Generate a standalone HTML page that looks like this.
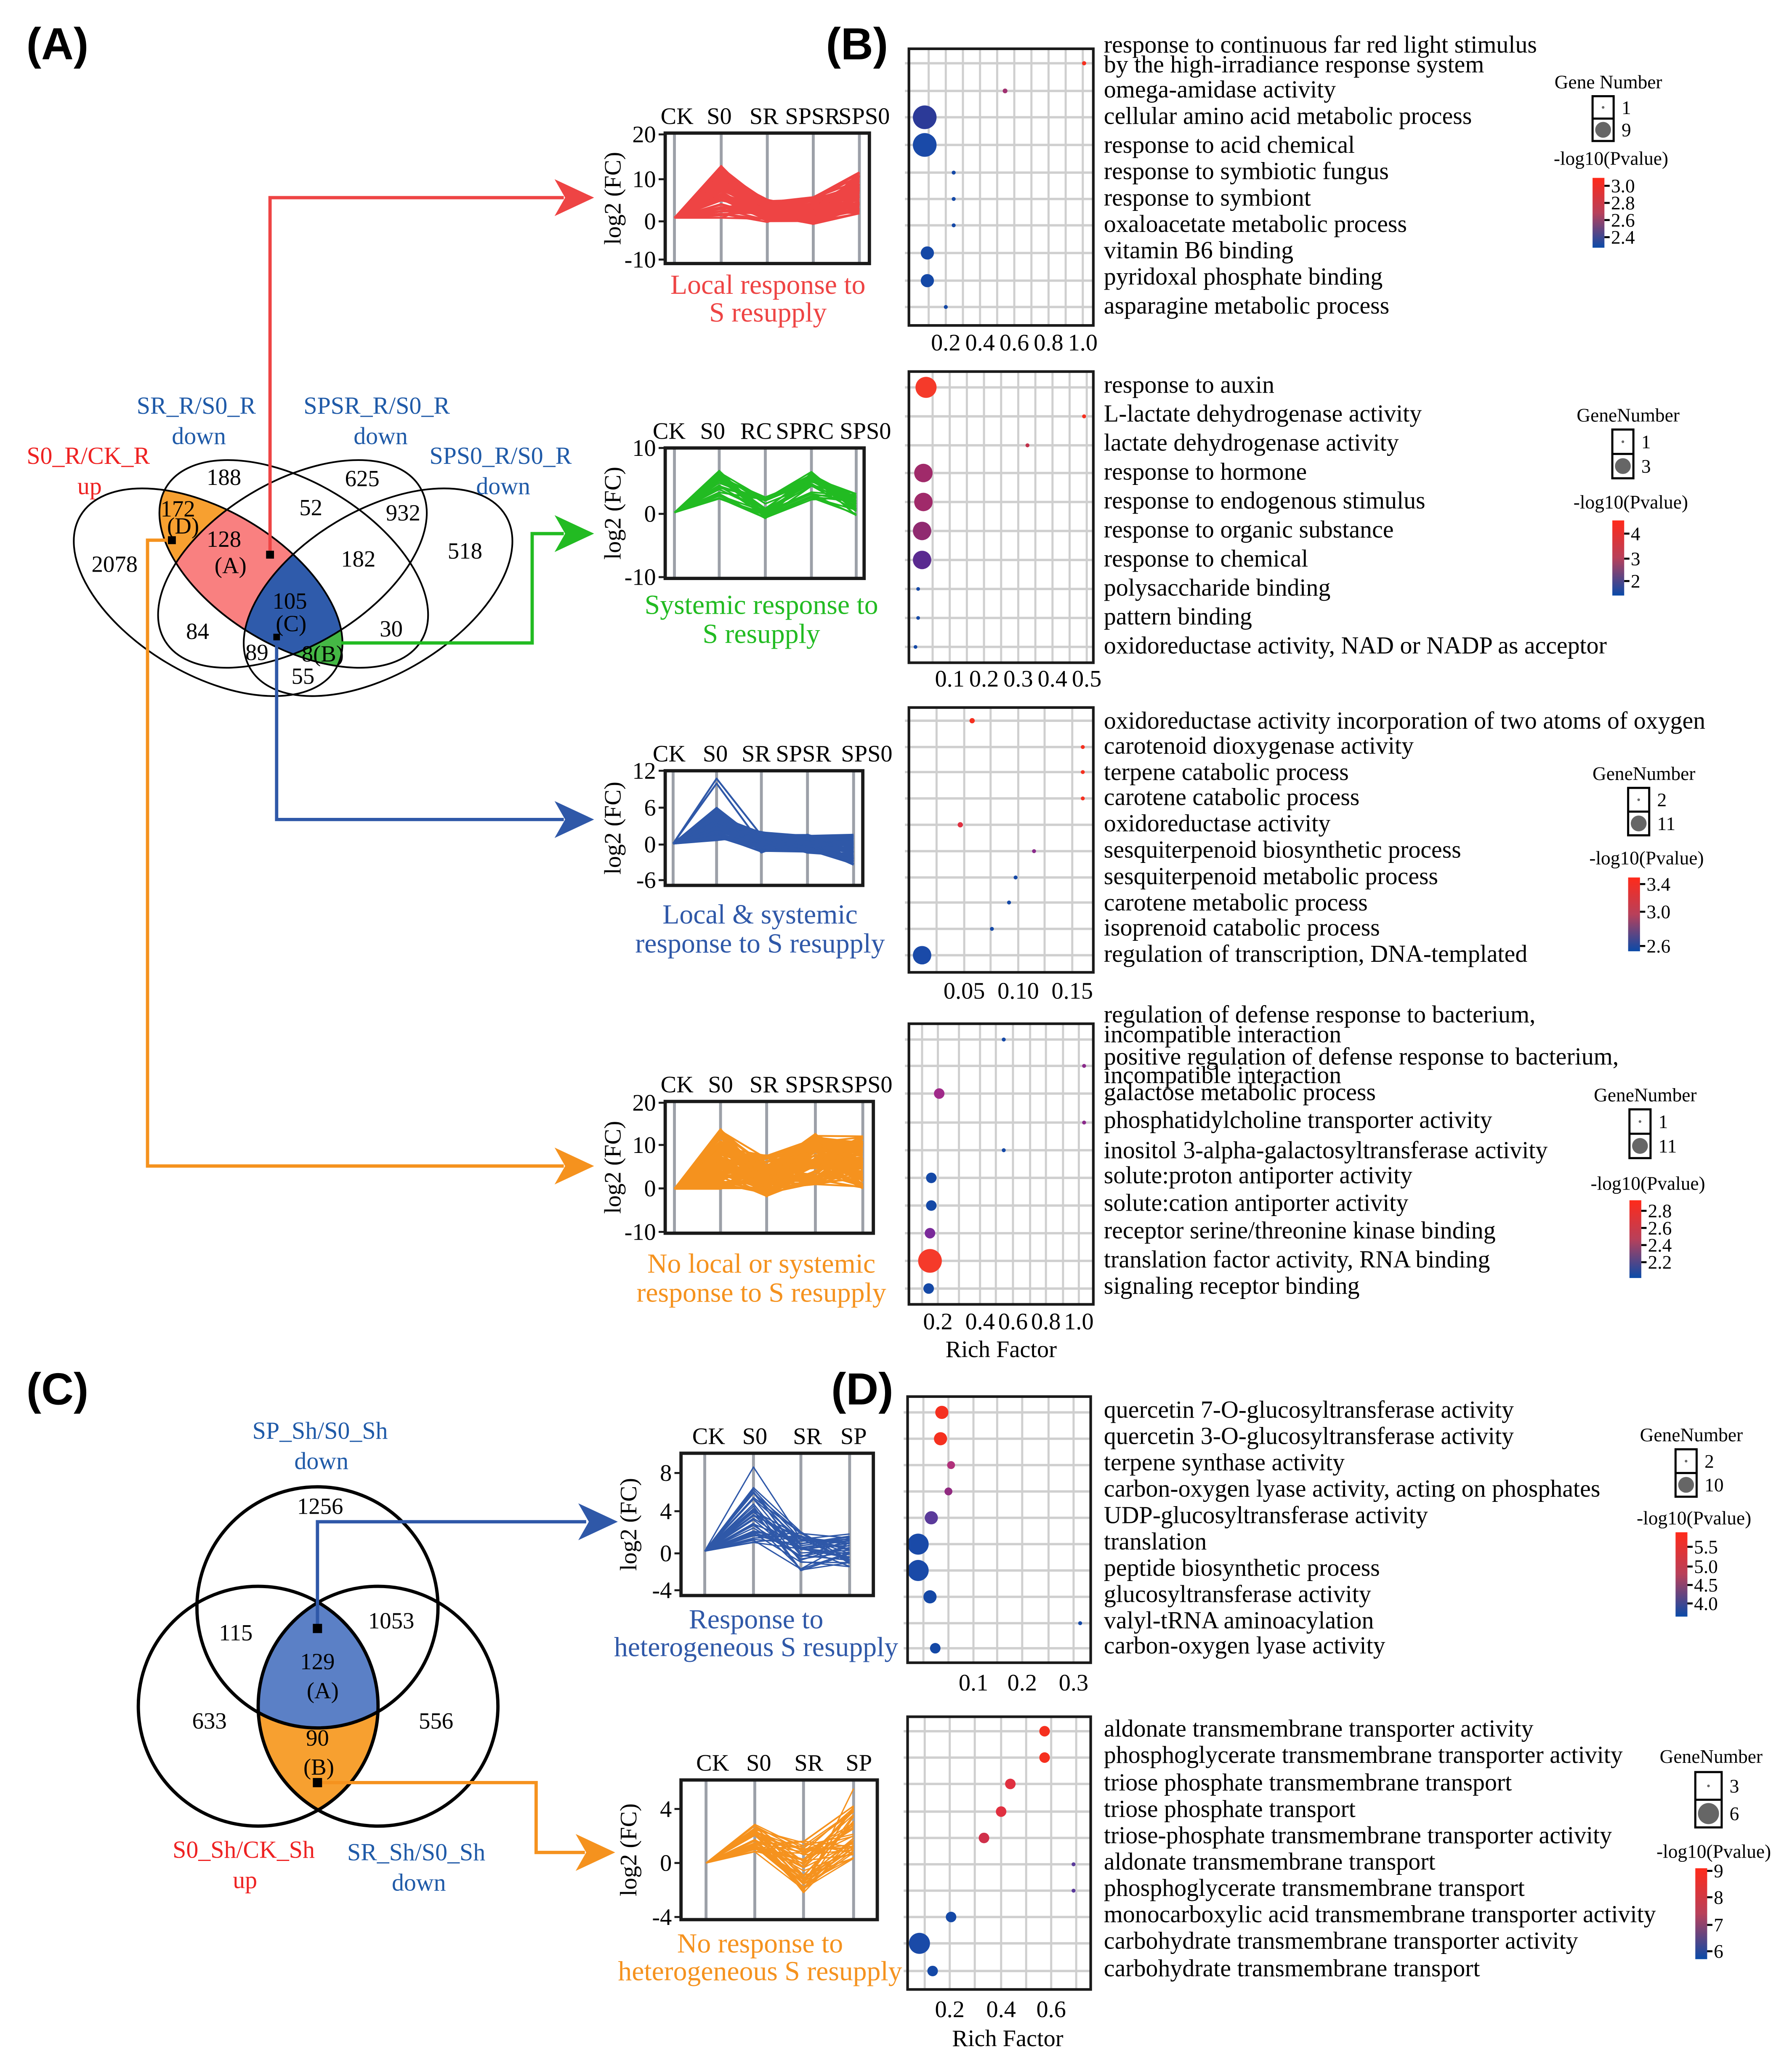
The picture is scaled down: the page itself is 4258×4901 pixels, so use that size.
<!DOCTYPE html>
<html><head><meta charset="utf-8">
<style>
html,body{margin:0;padding:0;background:#fff;}
svg{display:block;}
text{font-family:"Liberation Serif","DejaVu Serif",serif;}
.b{font-family:"Liberation Sans","DejaVu Sans",sans-serif;font-weight:bold;}
</style></head>
<body>
<svg id="s" xmlns="http://www.w3.org/2000/svg" width="4258" height="4901" viewBox="0 0 1360.4 1565.8">
<rect width="1360.4" height="1565.8" fill="#fff"/>
<defs>
<clipPath id="c1"><ellipse cx="0" cy="0" rx="113" ry="62" transform="translate(158,449.5) rotate(31)"/></clipPath>
<clipPath id="c2"><ellipse cx="0" cy="0" rx="113" ry="62" transform="translate(223,428) rotate(31)"/></clipPath>
<clipPath id="c3"><ellipse cx="0" cy="0" rx="113" ry="62" transform="translate(222,428) rotate(-31)"/></clipPath>
<clipPath id="c4"><ellipse cx="0" cy="0" rx="113" ry="62" transform="translate(287,449.5) rotate(-31)"/></clipPath>
<clipPath id="k1"><circle cx="241" cy="1220" r="91.5"/></clipPath>
<clipPath id="k2"><circle cx="196" cy="1295" r="91"/></clipPath>
<clipPath id="k3"><circle cx="287" cy="1295" r="91"/></clipPath>
<linearGradient id="gr" x1="0" y1="0" x2="0" y2="1"><stop offset="0" stop-color="#ff2a1a"/><stop offset="0.5" stop-color="#b8405a"/><stop offset="1" stop-color="#0a4aa8"/></linearGradient>
</defs>

<text class="b" x="20" y="45" font-size="34">(A)</text>
<text class="b" x="627" y="45" font-size="34">(B)</text>
<text class="b" x="20" y="1066" font-size="34">(C)</text>
<text class="b" x="631" y="1066" font-size="34">(D)</text>

<g clip-path="url(#c1)"><g clip-path="url(#c2)"><rect x="0" y="300" width="450" height="260" fill="#f7a030"/></g></g>
<g clip-path="url(#c1)"><g clip-path="url(#c2)"><g clip-path="url(#c3)"><rect x="0" y="300" width="450" height="260" fill="#f98080"/></g></g></g>
<g clip-path="url(#c1)"><g clip-path="url(#c2)"><g clip-path="url(#c4)"><rect x="0" y="300" width="450" height="260" fill="#45b845"/></g></g></g>
<g clip-path="url(#c1)"><g clip-path="url(#c2)"><g clip-path="url(#c3)"><g clip-path="url(#c4)"><rect x="0" y="300" width="450" height="260" fill="#2f5bab"/></g></g></g></g>
<g fill="none" stroke="#000" stroke-width="1.3">
<ellipse cx="0" cy="0" rx="113" ry="62" transform="translate(158,449.5) rotate(31)"/>
<ellipse cx="0" cy="0" rx="113" ry="62" transform="translate(223,428) rotate(31)"/>
<ellipse cx="0" cy="0" rx="113" ry="62" transform="translate(222,428) rotate(-31)"/>
<ellipse cx="0" cy="0" rx="113" ry="62" transform="translate(287,449.5) rotate(-31)"/>
</g>
<g font-size="17.5" text-anchor="middle" fill="#000">
<text x="170" y="368">188</text><text x="275" y="369">625</text><text x="236" y="391">52</text>
<text x="306" y="395">932</text><text x="353" y="424">518</text><text x="272" y="430">182</text>
<text x="87" y="434">2078</text><text x="135" y="392">172</text><text x="139" y="405">(D)</text>
<text x="170" y="415">128</text><text x="175" y="435">(A)</text><text x="220" y="462">105</text>
<text x="221" y="479">(C)</text><text x="150" y="485">84</text><text x="297" y="483">30</text>
<text x="195" y="501">89</text><text x="245" y="502">8(B)</text><text x="230" y="519">55</text>
</g>
<g font-size="18.5" text-anchor="middle">
<text x="67" y="352" fill="#ee2222">S0_R/CK_R</text><text x="68" y="375" fill="#ee2222">up</text>
<text x="149" y="314" fill="#1f5aa8">SR_R/S0_R</text><text x="151" y="337" fill="#1f5aa8">down</text>
<text x="286" y="314" fill="#1f5aa8">SPSR_R/S0_R</text><text x="289" y="337" fill="#1f5aa8">down</text>
<text x="380" y="352" fill="#1f5aa8">SPS0_R/S0_R</text><text x="382" y="375" fill="#1f5aa8">down</text>
</g>
<g fill="none" stroke-width="2.5">
<polyline points="205,421 205,150 428,150" stroke="#ee4444"/>
<polyline points="259,488 404,488 404,405 428,405" stroke="#22bb22"/>
<polyline points="210,484 210,622 428,622" stroke="#2f58a8"/>
<polyline points="130,410 112,410 112,885 428,885" stroke="#f5921e"/>
</g>
<path d="M451,150 l-30,-14 l8,14 l-8,14z" fill="#ee4444"/>
<path d="M451,405 l-30,-14 l8,14 l-8,14z" fill="#22bb22"/>
<path d="M451,622 l-30,-14 l8,14 l-8,14z" fill="#2f58a8"/>
<path d="M451,885 l-30,-14 l8,14 l-8,14z" fill="#f5921e"/>
<rect x="202" y="418" width="6" height="6" fill="#000"/>
<rect x="127.5" y="407" width="6" height="6" fill="#000"/>
<rect x="207.5" y="481" width="5" height="5" fill="#000"/>

<g clip-path="url(#k2)"><g clip-path="url(#k3)"><rect x="100" y="1150" width="300" height="250" fill="#f7a030"/></g></g>
<g clip-path="url(#k1)"><g clip-path="url(#k2)"><g clip-path="url(#k3)"><rect x="100" y="1150" width="300" height="250" fill="#5b80c6"/></g></g></g>
<g fill="none" stroke="#000" stroke-width="2.5">
<circle cx="241" cy="1220" r="91.5"/><circle cx="196" cy="1295" r="91"/><circle cx="287" cy="1295" r="91"/>
</g>
<g font-size="17.5" text-anchor="middle">
<text x="243" y="1149">1256</text><text x="179" y="1245">115</text><text x="297" y="1236">1053</text>
<text x="241" y="1267">129</text><text x="245" y="1289">(A)</text><text x="159" y="1312">633</text>
<text x="331" y="1312">556</text><text x="241" y="1325">90</text><text x="242" y="1347">(B)</text>
</g>
<g font-size="18.5" text-anchor="middle">
<text x="243" y="1092" fill="#1f5aa8">SP_Sh/S0_Sh</text><text x="244" y="1115" fill="#1f5aa8">down</text>
<text x="185" y="1410" fill="#ee2222">S0_Sh/CK_Sh</text><text x="186" y="1433" fill="#ee2222">up</text>
<text x="316" y="1412" fill="#1f5aa8">SR_Sh/S0_Sh</text><text x="318" y="1435" fill="#1f5aa8">down</text>
</g>
<g fill="none" stroke-width="2.5">
<polyline points="241,1236 241,1155 445,1155" stroke="#2f58a8"/>
<polyline points="241,1353 407,1353 407,1406 444,1406" stroke="#f5921e"/>
</g>
<path d="M469,1155 l-30,-14 l8,14 l-8,14z" fill="#2f58a8"/>
<path d="M467,1406 l-30,-14 l8,14 l-8,14z" fill="#f5921e"/>
<rect x="237.5" y="1232.5" width="7" height="7" fill="#000"/>
<rect x="237.5" y="1349.5" width="7" height="7" fill="#000"/>

<g id="dyn"></g>
</svg>
<script>
(function(){
var out='';
var seed=7;
function r(){seed=(seed*16807)%2147483647;return (seed-1)/2147483646;}
function U(a,b){return a+(b-a)*r();}
function T(x,y,s,sz,fill,anchor,extra){return '<text x="'+x+'" y="'+y+'" font-size="'+sz+'" fill="'+(fill||'#000')+'"'+(anchor?' text-anchor="'+anchor+'"':'')+(extra||'')+'>'+s.replace(/&/g,'&amp;')+'</text>';}
function lp(c){
  var t0=c.ticks[0],t1=c.ticks[c.ticks.length-1];
  function Y(v){return t0[1]+(v-t0[0])*(t1[1]-t0[1])/(t1[0]-t0[0]);}
  for(var i=0;i<c.cats.length;i++){out+='<line x1="'+c.cats[i]+'" y1="'+c.y0+'" x2="'+c.cats[i]+'" y2="'+c.y1+'" stroke="#9ca0a8" stroke-width="2.2"/>';}
  for(var k=0;k<c.n;k++){
    var v=c.gen(k),pts=[];
    for(var j=0;j<v.length;j++){var yy=Math.max(c.y0+2,Math.min(c.y1-2,Y(v[j])));pts.push(c.cats[j]+','+yy.toFixed(1));}
    out+='<polyline points="'+pts.join(' ')+'" fill="none" stroke="'+c.color+'" stroke-width="'+c.sw+'" stroke-linejoin="round"/>';
  }
  out+='<rect x="'+c.x0+'" y="'+c.y0+'" width="'+(c.x1-c.x0)+'" height="'+(c.y1-c.y0)+'" fill="none" stroke="#1a1a1a" stroke-width="2.5"/>';
  for(var i=0;i<c.ticks.length;i++){var tk=c.ticks[i];
    out+='<line x1="'+(c.x0-5)+'" y1="'+tk[1]+'" x2="'+c.x0+'" y2="'+tk[1]+'" stroke="#1a1a1a" stroke-width="1.5"/>';
    out+=T(c.x0-7,tk[1]+6,String(tk[0]),18,'#000','end');}
  for(var i=0;i<c.labels.length;i++){out+=T(c.lx?c.lx[i]:c.cats[i],c.y0-7,c.labels[i],18,'#000','middle');}
  var my=(c.y0+c.y1)/2, lx=c.x0-38;
  out+=T(lx,my,'log2 (FC)',18,'#000','middle',' transform="rotate(-90 '+lx+' '+my+')" dominant-baseline="middle"');
  out+=T(c.capX,c.capY[0],c.cap[0],21,c.color,'middle');
  out+=T(c.capX,c.capY[1],c.cap[1],21,c.color,'middle');
}
lp({x0:505,y0:101,x1:660,y1:200,cats:[512,547.5,582.5,617.4,652.4],labels:['CK','S0','SR','SPSR','SPS0'],lx:[514,546,580,617,656],
 ticks:[[20,102],[10,136],[0,168],[-10,197]],color:'#ee4444',sw:1.4,n:90,
 gen:function(k){return [0,U(0,12.5),U(-1,4.5),U(-1.5,5),U(1,k<3?14:11)];},
 cap:['Local response to','S resupply'],capX:583,capY:[223,244]});
lp({x0:505,y0:340,x1:656,y1:439,cats:[512,546,581,616,650],labels:['CK','S0','RC','SPRC','SPS0'],lx:[508,541,574,611,657],
 ticks:[[10,340],[0,390],[-10,438]],color:'#22bb22',sw:1.3,n:30,
 gen:function(){return [0,U(2,6.5),U(-1,2.5),U(2,6.5),U(-0.5,3)];},
 cap:['Systemic response to','S resupply'],capX:578,capY:[466,488]});
lp({x0:505,y0:585,x1:655,y1:672,cats:[511,544,578,613,648],labels:['CK','S0','SR','SPSR','SPS0'],lx:[508,543,574,610,658],
 ticks:[[12,585],[6,613],[0,641],[-6,668]],color:'#2f58a8',sw:1.4,n:70,
 gen:function(k){return [0,k<2?U(9,11):U(0.5,6),U(-1.5,2),U(-1.5,1.5),U(-3.5,1.5)];},
 cap:['Local & systemic','response to S resupply'],capX:577,capY:[701,723]});
lp({x0:505,y0:836,x1:663,y1:936,cats:[512,547,582,619,655],labels:['CK','S0','SR','SPSR','SPS0'],lx:[514,547,580,617,658],
 ticks:[[20,837],[10,869],[0,902],[-10,935]],color:'#f5921e',sw:1.4,n:110,
 gen:function(){return [0,U(0,14),U(-2,8),U(1,13),U(0,12.5)];},
 cap:['No local or systemic','response to S resupply'],capX:578,capY:[966,988]});
lp({x0:517,y0:1103,x1:663,y1:1211,cats:[535,572,608,645],labels:['CK','S0','SR','SP'],lx:[538,573,613,648],
 ticks:[[8,1118],[4,1147],[0,1179],[-4,1207]],color:'#2f58a8',sw:1,n:40,
 gen:function(k){return [0,k==0?8.6:U(0.8,6.5),U(-2,2),U(-1.6,1.8)];},
 cap:['Response to','heterogeneous S resupply'],capX:574,capY:[1236,1257]});
lp({x0:517,y0:1351,x1:666,y1:1457,cats:[536,573,610,648],labels:['CK','S0','SR','SP'],lx:[541,576,614,652],
 ticks:[[4,1373],[0,1414],[-4,1455]],color:'#f5921e',sw:1,n:45,
 gen:function(k){return [0,U(0.8,2.9),U(-2.2,1.7),k==0?5.5:U(0.3,4.3)];},
 cap:['No response to','heterogeneous S resupply'],capX:577,capY:[1482,1503]});

function bub(c){
  out+='<rect x="'+c.x0+'" y="'+c.y0+'" width="'+(c.x1-c.x0)+'" height="'+(c.y1-c.y0)+'" fill="#fff"/>';
  for(var i=0;i<c.vg.length;i++){out+='<line x1="'+c.vg[i]+'" y1="'+c.y0+'" x2="'+c.vg[i]+'" y2="'+c.y1+'" stroke="#cfcfcf" stroke-width="1.6"/>';}
  for(var i=0;i<c.rows.length;i++){out+='<line x1="'+(c.x0-3)+'" y1="'+c.rows[i]+'" x2="'+c.x1+'" y2="'+c.rows[i]+'" stroke="#cfcfcf" stroke-width="1.8"/>';}
  for(var i=0;i<c.b.length;i++){var b=c.b[i];out+='<circle cx="'+b[0]+'" cy="'+b[1]+'" r="'+b[2]+'" fill="'+b[3]+'"/>';}
  out+='<rect x="'+c.x0+'" y="'+c.y0+'" width="'+(c.x1-c.x0)+'" height="'+(c.y1-c.y0)+'" fill="none" stroke="#1a1a1a" stroke-width="2"/>';
  for(var i=0;i<c.ticks.length;i++){out+=T(c.ticks[i][1],c.ty,c.ticks[i][0],18,'#000','middle');}
  for(var i=0;i<c.terms.length;i++){out+=T(838,c.terms[i][1]+5,c.terms[i][0],18.5,'#000');}
  if(c.rf)out+=T(c.rf[0],c.rf[1],'Rich Factor',18,'#000','middle');
}
var R='#f5301f',BL='#1448a6',PU='#8a2a8a';
bub({x0:690,y0:37,x1:830,y1:247,vg:[705,718,731,744,757,770,783,796,809,822],rows:[48,69,89,110,131,151,171,192,213,233],
 b:[[823,48,1.6,R],[763,69,1.8,'#a03070'],[702,89,9,'#2c3a98'],[702,110,9,'#1a4aa8'],[724,131,1.5,BL],[724,151,1.5,BL],[724,171,1.5,BL],[704,192,5,BL],[704,213,5,BL],[718,233,1.5,BL]],
 ticks:[['0.2',718],['0.4',744],['0.6',770],['0.8',796],['1.0',822]],ty:266,
 terms:[['response to continuous far red light stimulus',35],['by the high-irradiance response system',50],['omega-amidase activity',69],['cellular amino acid metabolic process',89],['response to acid chemical',111],['response to symbiotic fungus',131],['response to symbiont',151],['oxaloacetate metabolic process',171],['vitamin B6 binding',191],['pyridoxal phosphate binding',211],['asparagine metabolic process',233]]});
bub({x0:690,y0:282,x1:830,y1:503,vg:[708,721,734,747,760,773,786,799,812,825],rows:[294,316,338,359,381,403,425,447,469,491],
 b:[[703,294,8,'#f53a2a'],[823,316,1.5,R],[780,338,1.5,'#c0304a'],[701,359,7,'#a02a6a'],[701,381,7,'#a02a6a'],[700,403,7,'#902a70'],[700,425,7,'#5a2a90'],[697,447,1.4,BL],[697,469,1.4,BL],[695,491,1.4,BL]],
 ticks:[['0.1',721],['0.2',747],['0.3',773],['0.4',799],['0.5',825]],ty:521,
 terms:[['response to auxin',293],['L-lactate dehydrogenase activity',315],['lactate dehydrogenase activity',337],['response to hormone',359],['response to endogenous stimulus',381],['response to organic substance',403],['response to chemical',425],['polysaccharide binding',447],['pattern binding',469],['oxidoreductase activity, NAD or NADP as acceptor',491]]});
bub({x0:690,y0:537,x1:830,y1:738,vg:[711,732,752,773,793,814],rows:[547,567,586,606,626,646,666,685,705,725],
 b:[[738,547,2,R],[822,567,1.5,R],[822,586,1.5,R],[822,606,1.5,R],[729,626,2,'#e03040'],[785,646,1.5,PU],[771,666,1.5,BL],[766,685,1.5,BL],[753,705,1.5,BL],[700,725,7,'#1a4aa8']],
 ticks:[['0.05',732],['0.10',773],['0.15',814]],ty:758,
 terms:[['oxidoreductase activity incorporation of two atoms of oxygen',548],['carotenoid dioxygenase activity',567],['terpene catabolic process',587],['carotene catabolic process',606],['oxidoreductase activity',626],['sesquiterpenoid biosynthetic process',646],['sesquiterpenoid metabolic process',666],['carotene metabolic process',686],['isoprenoid catabolic process',705],['regulation of transcription, DNA-templated',725]]});
bub({x0:690,y0:777,x1:830,y1:990,vg:[700,712,728,744,756,769,782,794,807,819],rows:[789,809,830,852,873,894,915,936,957,978],
 b:[[762,789,1.5,BL],[823,809,1.5,PU],[713,830,4,'#a02a8a'],[823,852,1.5,PU],[762,873,1.5,BL],[707,894,4,BL],[707,915,4,BL],[706,936,4,'#7a2a9a'],[706,957,9,'#f53a2a'],[705,978,4,BL]],
 ticks:[['0.2',712],['0.4',744],['0.6',769],['0.8',794],['1.0',819]],ty:1009,rf:[760,1030],
 terms:[['regulation of defense response to bacterium,',771],['incompatible interaction',786],['positive regulation of defense response to bacterium,',803],['incompatible interaction',817],['galactose metabolic process',830],['phosphatidylcholine transporter activity',851],['inositol 3-alpha-galactosyltransferase activity',874],['solute:proton antiporter activity',893],['solute:cation antiporter activity',914],['receptor serine/threonine kinase binding',935],['translation factor activity, RNA binding',957],['signaling receptor binding',977]]});
bub({x0:689,y0:1060,x1:828,y1:1262,vg:[701,720,739,757,776,796,815],rows:[1072,1092,1112,1132,1152,1172,1192,1212,1232,1251],
 b:[[715,1072,5,R],[714,1092,5,R],[722,1112,3,'#b0307a'],[720,1132,3,'#902a80'],[707,1152,5,'#5a3a9a'],[697,1172,8,'#1a4aa8'],[697,1192,8,'#1a4aa8'],[706,1212,5,BL],[820,1232,1.5,BL],[710,1251,4,BL]],
 ticks:[['0.1',739],['0.2',776],['0.3',815]],ty:1283,
 terms:[['quercetin 7-O-glucosyltransferase activity',1071],['quercetin 3-O-glucosyltransferase activity',1091],['terpene synthase activity',1111],['carbon-oxygen lyase activity, acting on phosphates',1131],['UDP-glucosyltransferase activity',1151],['translation',1171],['peptide biosynthetic process',1191],['glucosyltransferase activity',1211],['valyl-tRNA aminoacylation',1231],['carbon-oxygen lyase activity',1250]]});
bub({x0:689,y0:1303,x1:828,y1:1510,vg:[702,721,740,760,779,798,817],rows:[1314,1334,1354,1375,1395,1415,1435,1455,1475,1496],
 b:[[793,1314,4,R],[793,1334,4,R],[767,1354,4,'#e03040'],[760,1375,4,'#e03040'],[747,1395,4,'#d0304a'],[815,1415,1.5,'#5a3a9a'],[815,1435,1.5,'#5a3a9a'],[722,1455,4,BL],[698,1475,8,'#1a4aa8'],[708,1496,4,BL]],
 ticks:[['0.2',721],['0.4',760],['0.6',798]],ty:1531,rf:[765,1553],
 terms:[['aldonate transmembrane transporter activity',1313],['phosphoglycerate transmembrane transporter activity',1333],['triose phosphate transmembrane transport',1354],['triose phosphate transport',1374],['triose-phosphate transmembrane transporter activity',1394],['aldonate transmembrane transport',1414],['phosphoglycerate transmembrane transport',1434],['monocarboxylic acid transmembrane transporter activity',1454],['carbohydrate transmembrane transporter activity',1474],['carbohydrate transmembrane transport',1495]]});

function leg(c){
  var cx=c.cx;
  out+=T(cx,c.t1,c.title,14.5,'#000','middle');
  var bx=cx-12,bw=c.bw||16,bh=(c.b1-c.b0)/2;
  out+='<rect x="'+bx+'" y="'+c.b0+'" width="'+bw+'" height="'+(c.b1-c.b0)+'" fill="#fff" stroke="#000" stroke-width="1.6"/>';
  out+='<line x1="'+bx+'" y1="'+(c.b0+bh)+'" x2="'+(bx+bw)+'" y2="'+(c.b0+bh)+'" stroke="#000" stroke-width="1.6"/>';
  out+='<circle cx="'+(bx+bw/2)+'" cy="'+(c.b0+bh/2)+'" r="1" fill="#666"/>';
  out+='<circle cx="'+(bx+bw/2)+'" cy="'+(c.b0+bh*1.5)+'" r="'+(bw/2-2)+'" fill="#666"/>';
  out+=T(bx+bw+6,c.b0+bh/2+5,c.n[0],14.5);
  out+=T(bx+bw+6,c.b0+bh*1.5+5,c.n[1],14.5);
  out+=T(cx+2,c.t2,'-log10(Pvalue)',14.5,'#000','middle');
  out+='<rect x="'+bx+'" y="'+c.g0+'" width="9" height="'+(c.g1-c.g0)+'" fill="url(#gr)"/>';
  for(var i=0;i<c.tk.length;i++){out+='<line x1="'+(bx+9)+'" y1="'+c.tk[i][1]+'" x2="'+(bx+13)+'" y2="'+c.tk[i][1]+'" stroke="#000" stroke-width="1.5"/>';out+=T(bx+14,c.tk[i][1]+5,c.tk[i][0],14.5);}
}
leg({cx:1221,title:'Gene Number',t1:67,b0:73,b1:107,n:['1','9'],t2:125,g0:135,g1:188,tk:[['3.0',141],['2.8',154],['2.6',167],['2.4',180]]});
leg({cx:1236,title:'GeneNumber',t1:320,b0:326,b1:363,n:['1','3'],t2:386,g0:395,g1:452,tk:[['4',405],['3',424],['2',441]]});
leg({cx:1248,title:'GeneNumber',t1:592,b0:598,b1:634,n:['2','11'],t2:656,g0:666,g1:722,tk:[['3.4',671],['3.0',692],['2.6',718]]});
leg({cx:1249,title:'GeneNumber',t1:836,b0:842,b1:879,n:['1','11'],t2:903,g0:911,g1:970,tk:[['2.8',919],['2.6',932],['2.4',945],['2.2',958]]});
leg({cx:1284,title:'GeneNumber',t1:1094,b0:1100,b1:1136,n:['2','10'],t2:1157,g0:1163,g1:1227,tk:[['5.5',1174],['5.0',1189],['4.5',1203],['4.0',1217]]});
leg({cx:1299,title:'GeneNumber',t1:1338,b0:1345,b1:1387,bw:20,n:['3','6'],t2:1410,g0:1418,g1:1487,tk:[['9',1420],['8',1440],['7',1461],['6',1481]]});
document.getElementById('dyn').innerHTML=out;
})();
</script>
</body></html>
